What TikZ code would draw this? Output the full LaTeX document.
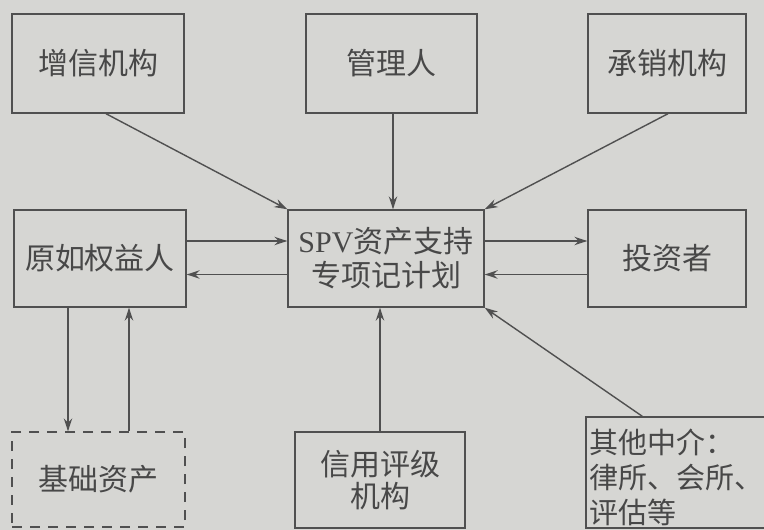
\documentclass[tikz,border=0pt]{standalone}
\usepackage{fontspec}
\setmainfont{Liberation Serif}
\newfontfamily\cjk{Noto Sans CJK SC}
\newfontfamily\lat{Liberation Serif}
\usetikzlibrary{arrows.meta}
\definecolor{bg}{RGB}{214,214,211}
\definecolor{ink}{RGB}{80,80,80}
\definecolor{txt}{RGB}{72,72,72}
\tikzset{
  box/.style={draw=ink, line width=1.4pt, inner sep=0pt, text=txt,
    font=\cjk\fontsize{30}{34}\selectfont, align=center},
  dbox/.style={box, dash pattern=on 10pt off 8pt},
  arr/.style={draw=ink, line width=1.4pt, -{Stealth[length=13pt,width=8.5pt]}},
  ln/.style={draw=ink, line width=1.4pt}
}
\begin{document}
\begin{tikzpicture}[x=1pt,y=-1pt]
\useasboundingbox (0,0) rectangle (764,530);
\fill[bg] (0,0) rectangle (764,530);
\clip (0,0) rectangle (764,530);
% top row
\node[box, minimum width=172pt, minimum height=99pt] (zx) at (98,63.5) {增信机构};
\node[box, minimum width=171pt, minimum height=99pt] (gl) at (391.5,63.5) {管理人};
\node[box, minimum width=158pt, minimum height=99pt] (cx) at (667,63.5) {承销机构};
% middle row
\node[box, minimum width=172pt, minimum height=97pt] (yr) at (100,258.5) {原如权益人};
\node[box, minimum width=196pt, minimum height=97pt] (spv) at (386,258.5) {{\lat SPV}资产支持\\专项记计划};
\node[box, minimum width=158pt, minimum height=97pt] (tz) at (667,258.5) {投资者};
% bottom row
\node[dbox, minimum width=173pt, minimum height=95pt] (jc) at (98.5,479.5) {基础资产};
\node[box, font=\cjk\fontsize{30}{32}\selectfont, minimum width=170pt, minimum height=96pt] (xy) at (380,480) {信用评级\\机构};
\node[box, minimum width=190pt, minimum height=111pt] (qt) at (681,472.5) {};
\node[text=txt, font=\cjk\fontsize{29}{35}\selectfont, align=left, inner sep=0pt, anchor=west] (qtt) at (589,477) {其他中介：\\律所、会所、\\评估等};
% connectors
\draw[arr] ([xshift=8pt]zx.south) -- (spv.north west);
\draw[arr] ([xshift=1.5pt]gl.south) -- ([xshift=1.5pt]gl.south |- spv.north);
\draw[arr] ([xshift=1pt]cx.south) -- (spv.north east);
\draw[arr] ([yshift=17.5pt]yr.east) -- ([yshift=17.5pt]spv.west);
\draw[arr] ([yshift=-16pt]spv.west) -- ([yshift=-16pt]yr.east);
\draw[arr] ([yshift=17.5pt]spv.east) -- ([yshift=17.5pt]tz.west);
\draw[arr] ([yshift=-16pt]tz.west) -- ([yshift=-16pt]spv.east);
\draw[arr] ([xshift=-32pt]yr.south) -- ([xshift=-30.5pt]jc.north);
\draw[arr] ([xshift=30.5pt]jc.north) -- ([xshift=29pt]yr.south);
\draw[arr] (xy.north) -- (xy.north |- spv.south);
\draw[arr] ([xshift=57pt]qt.north west) -- (spv.south east);
\end{tikzpicture}
\end{document}
